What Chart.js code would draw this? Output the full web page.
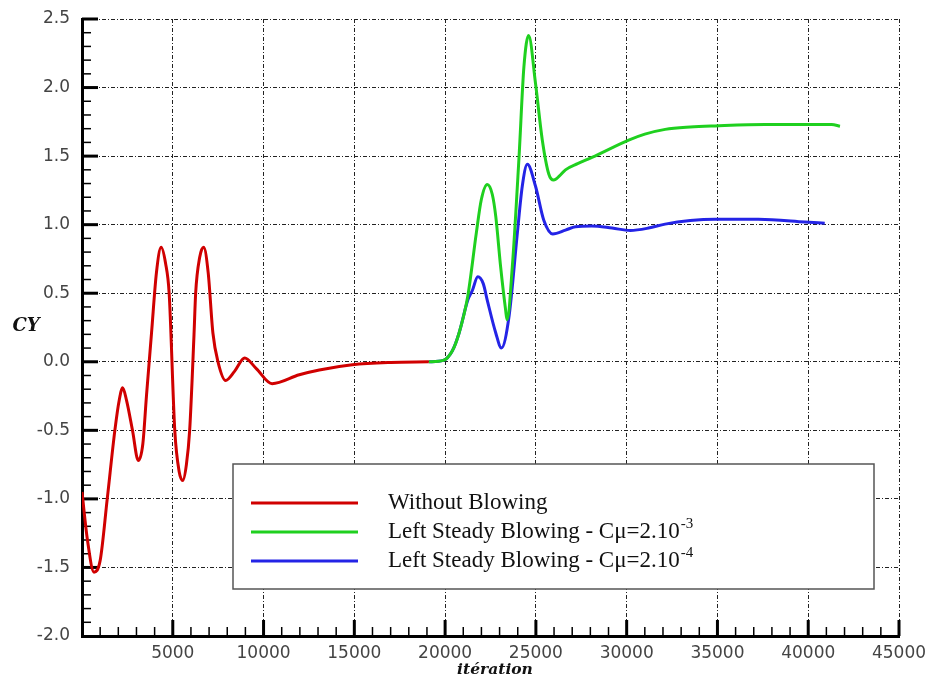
<!DOCTYPE html>
<html>
<head>
<meta charset="utf-8">
<script src="https://cdn.jsdelivr.net/npm/chart.js@4.4.1/dist/chart.umd.min.js"></script>
<style>
  html, body { margin: 0; padding: 0; background: #fff; }
  #wrap { width: 929px; height: 681px; position: relative; }
</style>
</head>
<body>
<div id="wrap"><canvas id="cy"></canvas></div>
<script>
// CY history vs iteration
const noBlowIter = [0, 300, 660, 1000, 1390, 1810, 2050, 2240, 2450, 2780, 3100, 3350, 3550, 3830, 4100, 4360, 4600, 4800, 5110, 5350, 5550, 5750, 5930, 6170, 6260, 6480, 6700, 6950, 7210, 7490, 7910, 8400, 8960, 9600, 10470, 11970, 13070, 14890, 17000, 19100];
const noBlowCy   = [-0.95, -1.3, -1.535, -1.45, -1.0, -0.5, -0.28, -0.19, -0.28, -0.5, -0.72, -0.6, -0.25, 0.21, 0.65, 0.835, 0.72, 0.5, -0.5, -0.8, -0.866, -0.75, -0.5, 0.2, 0.5, 0.76, 0.835, 0.65, 0.21, 0.0, -0.136, -0.07, 0.027, -0.05, -0.16, -0.095, -0.06, -0.022, -0.005, 0.0];

const blow3Iter = [19100, 19900, 20400, 20770, 21250, 21720, 21990, 22320, 22600, 22790, 23060, 23330, 23410, 23700, 24070, 24340, 24600, 24980, 25350, 25710, 25980, 26300, 26630, 27300, 28090, 30110, 31000, 32120, 33500, 34870, 37620, 41290, 41750];
const blow3Cy   = [0.0, 0.01, 0.08, 0.21, 0.48, 0.94, 1.18, 1.293, 1.22, 1.06, 0.69, 0.38, 0.306, 0.69, 1.49, 2.15, 2.38, 2.03, 1.62, 1.37, 1.325, 1.355, 1.40, 1.445, 1.49, 1.616, 1.66, 1.695, 1.712, 1.72, 1.73, 1.73, 1.718];

const blow4Iter = [19100, 19900, 20400, 20770, 21250, 21500, 21800, 22100, 22320, 22790, 23100, 23520, 23980, 24250, 24530, 24980, 25440, 25930, 26630, 27180, 28080, 29200, 30200, 31200, 32120, 33500, 34870, 37250, 39810, 40910];
const blow4Cy   = [0.0, 0.01, 0.08, 0.21, 0.45, 0.52, 0.62, 0.57, 0.45, 0.21, 0.1, 0.33, 0.94, 1.28, 1.44, 1.28, 1.03, 0.932, 0.96, 0.985, 0.99, 0.975, 0.958, 0.975, 1.004, 1.03, 1.04, 1.04, 1.02, 1.01];

const legendLabels = ['Without Blowing', 'Left Steady Blowing - C\u03bc=2.10', 'Left Steady Blowing - C\u03bc=2.10'];
const legendSup = ['', '-3', '-4'];
const lineColors = ['#d00000', '#1fd01f', '#2424e6'];

const xMin = 0, xMax = 45000, xMajor = 5000, xMinor = 1000;
const yMin = -2.0, yMax = 2.5, yMajor = 0.5, yMinor = 0.1;

const pts = (xs, ys) => xs.map((x, i) => ({ x: x, y: ys[i] }));

function lineSet(label, data, color) {
    return {
        label: label,
        data: data,
        borderColor: color,
        backgroundColor: color,
        borderWidth: 3,
        pointRadius: 0,
        cubicInterpolationMode: 'monotone',
        fill: false
    };
}

// inward ticks, legend box and the two axis titles
const framePlugin = {
    id: 'frame',
    beforeDatasetsDraw(chart) {
        const ctx = chart.ctx;
        const xs = chart.scales.x, ys = chart.scales.y;
        const left = xs.left, bottom = ys.bottom;
        ctx.save();
        ctx.strokeStyle = '#000';
        for (let v = xMin + xMinor; v <= xMax + 1; v += xMinor) {
            const major = Math.abs(v % xMajor) < 1;
            const px = xs.getPixelForValue(v);
            ctx.lineWidth = major ? 3 : 1.5;
            ctx.beginPath();
            ctx.moveTo(px, bottom);
            ctx.lineTo(px, bottom - (major ? 16 : 9));
            ctx.stroke();
        }
        for (let i = 1; ; i++) {
            const v = yMin + i * yMinor;
            if (v > yMax + 1e-6) break;
            const major = Math.abs(Math.round(v / yMajor) * yMajor - v) < 1e-6;
            const py = ys.getPixelForValue(v);
            ctx.lineWidth = major ? 3 : 1.5;
            ctx.beginPath();
            ctx.moveTo(left, py);
            ctx.lineTo(left + (major ? 16 : 9), py);
            ctx.stroke();
        }
        ctx.restore();
    },
    afterDatasetsDraw(chart) {
        const ctx = chart.ctx;
        const bx = 233, by = 464, bw = 641, bh = 125;
        ctx.save();
        ctx.fillStyle = '#fff';
        ctx.fillRect(bx, by, bw, bh);
        ctx.strokeStyle = '#555';
        ctx.lineWidth = 1.5;
        ctx.strokeRect(bx, by, bw, bh);
        ctx.textBaseline = 'middle';
        ctx.fillStyle = '#111';
        legendLabels.forEach((txt, i) => {
            const y = 503 + i * 29;
            ctx.strokeStyle = lineColors[i];
            ctx.lineWidth = 3;
            ctx.beginPath();
            ctx.moveTo(251, y);
            ctx.lineTo(358, y);
            ctx.stroke();
            ctx.font = '23px "Liberation Serif"';
            ctx.fillText(txt, 388, y);
            if (legendSup[i]) {
                const w = ctx.measureText(txt).width;
                ctx.font = '15px "Liberation Serif"';
                ctx.fillText(legendSup[i], 388 + w + 1, y - 8);
            }
        });
        ctx.restore();
    },
    afterDraw(chart) {
        const ctx = chart.ctx;
        ctx.save();
        ctx.fillStyle = '#111';
        ctx.textAlign = 'center';
        ctx.textBaseline = 'middle';
        ctx.font = 'italic bold 18px "DejaVu Serif"';
        ctx.fillText('CY', 26, 326);
        ctx.font = 'italic bold 15.5px "DejaVu Serif"';
        ctx.fillText('itération', 495, 670);
        ctx.restore();
    }
};

new Chart(document.getElementById('cy'), {
    type: 'line',
    data: {
        datasets: [
            lineSet(legendLabels[0], pts(noBlowIter, noBlowCy), lineColors[0]),
            lineSet(legendLabels[1] + legendSup[1], pts(blow3Iter, blow3Cy), lineColors[1]),
            lineSet(legendLabels[2] + legendSup[2], pts(blow4Iter, blow4Cy), lineColors[2])
        ]
    },
    options: {
        responsive: true,
        maintainAspectRatio: false,
        animation: false,
        layout: { padding: { left: 0, top: 19, right: 30, bottom: 0 } },
        plugins: { legend: { display: false }, tooltip: { enabled: false } },
        scales: {
            x: {
                type: 'linear',
                min: xMin, max: xMax,
                afterFit: (s) => { s.height = 45; s.paddingLeft = 0; s.paddingRight = 0; },
                ticks: {
                    stepSize: xMajor,
                    autoSkip: false,
                    maxRotation: 0,
                    padding: 7,
                    color: '#444',
                    font: { family: '"DejaVu Sans"', size: 17 },
                    callback: (v) => (v === 0 ? '' : String(v))
                },
                grid: { color: '#222', lineWidth: 1, drawTicks: false },
                border: { display: true, color: '#000', width: 3, dash: [4, 2, 1, 2] }
            },
            y: {
                min: yMin, max: yMax,
                afterFit: (s) => { s.width = 82; s.paddingTop = 0; s.paddingBottom = 0; },
                ticks: {
                    stepSize: yMajor,
                    padding: 12,
                    color: '#444',
                    font: { family: '"DejaVu Sans"', size: 17 },
                    callback: (v) => Number(v).toFixed(1)
                },
                grid: { color: '#222', lineWidth: 1, drawTicks: false },
                border: { display: true, color: '#000', width: 3, dash: [4, 2, 1, 2] }
            }
        }
    },
    plugins: [framePlugin]
});
</script>
</body>
</html>
